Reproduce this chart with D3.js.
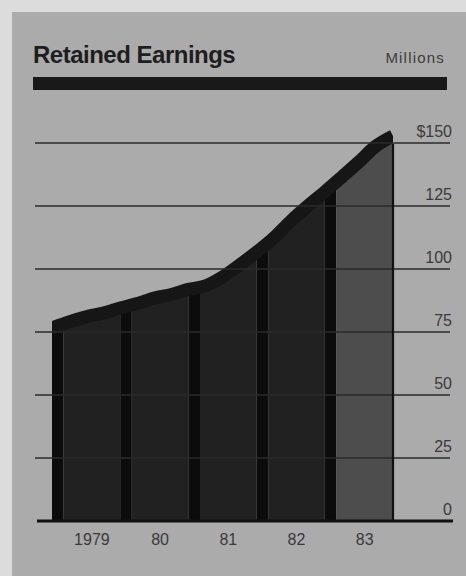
<!DOCTYPE html>
<html><head><meta charset="utf-8">
<script src="https://cdn.jsdelivr.net/npm/d3@7"></script>
<style>body{margin:0;background:#dcdcdc;overflow:hidden}</style>
</head><body>
<svg id="chart" width="466" height="576"></svg>
<script>
// ---- data ----
const years = ["1979", "80", "81", "82", "83"];
// quarterly retained earnings ($ millions), start of 1979 through end of 1983
const earnings = [76.6, 79.0, 81.0, 82.5, 84.5, 86.3, 88.5, 89.9, 91.9, 93.3, 96.8,
                  101.6, 106.7, 112.3, 119.0, 125.0, 130.6, 136.5, 142.5, 148.8, 152.8];
const yTicks = [0, 25, 50, 75, 100, 125, 150];
const yTickLabels = ["0", "25", "50", "75", "100", "125", "$150"];
const title = "Retained Earnings";
const unitLabel = "Millions";

// ---- layout ----
const W = 466, H = 576;
const font = "'Liberation Sans', Arial, Helvetica, sans-serif";
const svg = d3.select("#chart");
const x = d3.scaleLinear().domain([0, years.length]).range([52, 393]);
const y = d3.scaleLinear().domain([0, 150]).range([521, 143]);
const stripFrac = 0.17;

svg.append("rect").attr("width", W).attr("height", H).attr("fill", "#dcdcdc");
svg.append("rect").attr("x", 12).attr("y", 12).attr("width", W - 12).attr("height", H - 12).attr("fill", "#ababab");

// title
svg.append("text").attr("x", 33).attr("y", 63).text(title)
  .attr("font-family", font).attr("font-weight", "bold").attr("font-size", 24)
  .attr("letter-spacing", -0.5).attr("fill", "#1e1e1e");
svg.append("text").attr("x", 445).attr("y", 63).text(unitLabel)
  .attr("text-anchor", "end").attr("font-family", font).attr("font-size", 15)
  .attr("letter-spacing", 1.2).attr("fill", "#3c3c3c");
svg.append("rect").attr("x", 33).attr("y", 77).attr("width", 414).attr("height", 13).attr("fill", "#191919");

// data points
const pts = earnings.map((v, i) => ({t: i / 4, v}));
const area = d3.area().x(d => x(d.t)).y0(y(0)).y1(d => y(d.v)).curve(d3.curveMonotoneX);
const line = d3.line().x(d => x(d.t)).y(d => y(d.v)).curve(d3.curveMonotoneX);

const defs = svg.append("defs");
function clip(id, a, b) {
  defs.append("clipPath").attr("id", id).append("rect")
    .attr("x", x(a)).attr("y", 0).attr("width", x(b) - x(a)).attr("height", H);
  return `url(#${id})`;
}

years.forEach((yr, i) => {
  svg.append("path").attr("d", area(pts)).attr("fill", "#0c0c0c")
    .attr("clip-path", clip("s" + i, i, i + stripFrac));
  svg.append("path").attr("d", area(pts))
    .attr("fill", i === years.length - 1 ? "#4d4d4d" : "#212121")
    .attr("clip-path", clip("b" + i, i + stripFrac, i + 1));
});

// thick top band
svg.append("path").attr("d", line(pts)).attr("fill", "none")
  .attr("stroke", "#161616").attr("stroke-width", 13).attr("stroke-linejoin", "round")
  .attr("clip-path", clip("all", 0, years.length));

// gridlines
yTicks.forEach((t, i) => {
  if (t === 0) return;
  svg.append("line").attr("x1", 35).attr("x2", 450).attr("y1", y(t)).attr("y2", y(t))
    .attr("stroke", "#2a2a2a").attr("stroke-width", 1.6);
});
// right edge of area
svg.append("line").attr("x1", x(years.length)).attr("x2", x(years.length))
  .attr("y1", y(earnings[earnings.length - 1]) + 8).attr("y2", y(0))
  .attr("stroke", "#111").attr("stroke-width", 2.2);
// baseline
svg.append("line").attr("x1", 37).attr("x2", 453).attr("y1", y(0)).attr("y2", y(0))
  .attr("stroke", "#111").attr("stroke-width", 3);

// y tick labels
yTicks.forEach((t, i) => {
  svg.append("text").attr("x", 452).attr("y", y(t) - 6).text(yTickLabels[i])
    .attr("text-anchor", "end").attr("font-family", font).attr("font-size", 16)
    .attr("fill", "#3a3a3a");
});

// year labels
years.forEach((yr, i) => {
  svg.append("text").attr("x", x(i + (1 + stripFrac) / 2)).attr("y", 545).text(yr)
    .attr("text-anchor", "middle").attr("font-family", font).attr("font-size", 16)
    .attr("fill", "#3a3a3a");
});
</script>
</body></html>
